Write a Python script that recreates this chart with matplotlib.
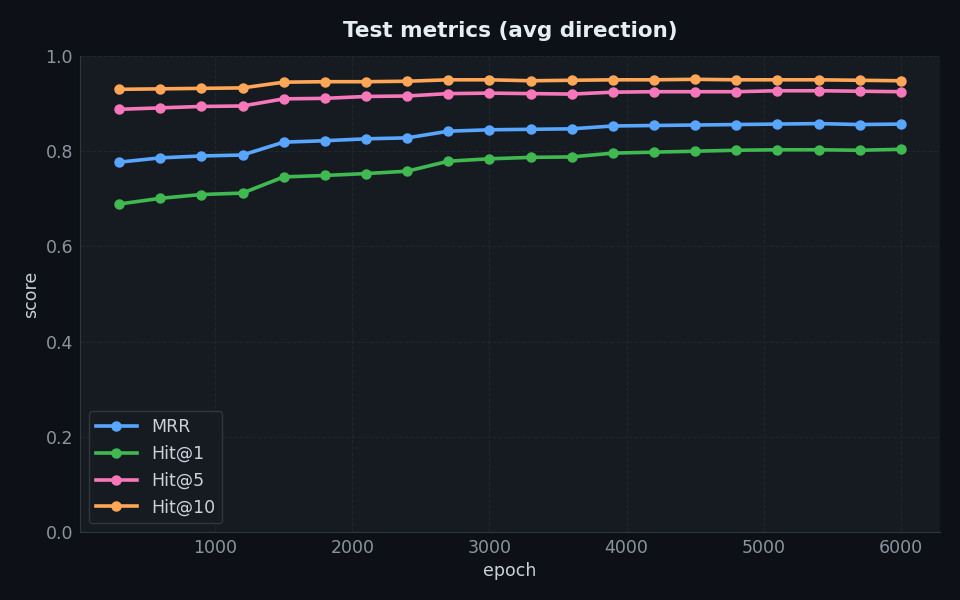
import matplotlib
matplotlib.use("Agg")
import matplotlib.pyplot as plt

plt.rcParams["font.family"] = "DejaVu Sans"

epochs = [300, 600, 900, 1200, 1500, 1800, 2100, 2400, 2700, 3000,
          3300, 3600, 3900, 4200, 4500, 4800, 5100, 5400, 5700, 6000]

mrr = [0.777, 0.786, 0.790, 0.792, 0.819, 0.822, 0.826, 0.828, 0.842, 0.845,
       0.846, 0.847, 0.853, 0.854, 0.855, 0.856, 0.857, 0.858, 0.856, 0.857]
hit1 = [0.689, 0.701, 0.709, 0.712, 0.746, 0.749, 0.753, 0.758, 0.779, 0.784,
        0.787, 0.788, 0.796, 0.798, 0.800, 0.802, 0.803, 0.803, 0.802, 0.804]
hit5 = [0.888, 0.891, 0.894, 0.895, 0.910, 0.911, 0.915, 0.916, 0.921, 0.922,
        0.921, 0.920, 0.924, 0.925, 0.925, 0.925, 0.927, 0.927, 0.926, 0.925]
hit10 = [0.930, 0.931, 0.932, 0.933, 0.945, 0.946, 0.946, 0.947, 0.950, 0.950,
         0.948, 0.949, 0.950, 0.950, 0.951, 0.950, 0.950, 0.950, 0.949, 0.948]

series = [
    ("MRR", mrr, "#58a6ff"),
    ("Hit@1", hit1, "#3fb950"),
    ("Hit@5", hit5, "#f778ba"),
    ("Hit@10", hit10, "#ffa657"),
]

fig = plt.figure(figsize=(9.6, 6), dpi=100)
fig.patch.set_facecolor("#0d1117")
ax = fig.add_axes([80 / 960, 68 / 600, 860 / 960, 476 / 600])
ax.set_facecolor("#161b22")

for name, vals, color in series:
    ax.plot(epochs, vals, marker="o", linewidth=2.6, markersize=6.5,
            color=color, label=name)

ax.set_ylim(0, 1.0)
ax.grid(True, color="#21262d", linestyle="--", linewidth=0.8)
ax.set_axisbelow(True)

for side in ["top", "right"]:
    ax.spines[side].set_visible(False)
for side in ["left", "bottom"]:
    ax.spines[side].set_color("#30363d")

ax.tick_params(colors="#8b949e", labelsize=12.5, length=0, pad=5)
ax.set_xlabel("epoch", color="#c9d1d9", fontsize=12.5)
ax.set_ylabel("score", color="#c9d1d9", fontsize=12.5)
ax.set_title("Test metrics (avg direction)", color="#e6edf3",
             fontsize=15.5, weight="bold", pad=14)

leg = ax.legend(loc="lower left", fontsize=12.5, facecolor="#161b22",
                edgecolor="#30363d", labelcolor="#c9d1d9", framealpha=1,
                handlelength=2.4)

fig.savefig("out.png", dpi=100, facecolor=fig.get_facecolor())
plt.close(fig)
